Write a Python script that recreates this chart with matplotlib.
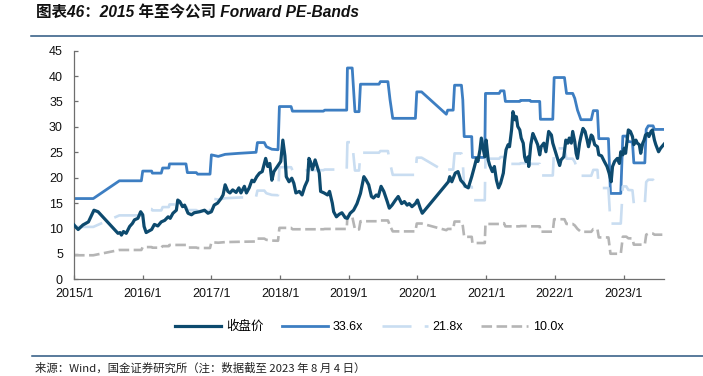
# -*- coding: utf-8 -*-
"""
Forward PE-Bands 차트 재현 (2015/1 ~ 2023/8)
"""
import matplotlib
matplotlib.use('Agg')
import matplotlib.pyplot as plt
from matplotlib.lines import Line2D

plt.rcParams['font.family'] = ['Liberation Sans', 'Noto Sans CJK SC']
plt.rcParams['axes.unicode_minus'] = False

# 收盘价 (연도 소수 표기)
close_t = [2015.00, 2015.06, 2015.13, 2015.21, 2015.29, 2015.35, 2015.64, 2015.67, 2015.69, 2015.72,
           2015.76, 2015.81, 2015.85, 2015.88, 2015.93, 2015.97, 2016.00, 2016.02, 2016.05, 2016.09,
           2016.13, 2016.17, 2016.22, 2016.27, 2016.32, 2016.37, 2016.40, 2016.44, 2016.49, 2016.51,
           2016.54, 2016.58, 2016.61, 2016.66, 2016.71, 2016.75, 2016.83, 2016.90, 2016.95, 2017.00,
           2017.04, 2017.09, 2017.14, 2017.17, 2017.20, 2017.24, 2017.27, 2017.31, 2017.36, 2017.40,
           2017.43, 2017.48, 2017.51, 2017.55, 2017.59, 2017.62, 2017.66, 2017.70, 2017.74, 2017.79,
           2017.82, 2017.85, 2017.88, 2017.91, 2017.96, 2018.01, 2018.04, 2018.07, 2018.09, 2018.13,
           2018.17, 2018.20, 2018.23, 2018.28, 2018.32, 2018.36, 2018.40, 2018.42, 2018.44, 2018.47,
           2018.51, 2018.54, 2018.57, 2018.59, 2018.64, 2018.69, 2018.72, 2018.76, 2018.78, 2018.82,
           2018.86, 2018.90, 2018.95, 2018.98, 2019.02, 2019.07, 2019.12, 2019.17, 2019.22, 2019.25,
           2019.29, 2019.33, 2019.36, 2019.40, 2019.43, 2019.47, 2019.51, 2019.56, 2019.59, 2019.63,
           2019.68, 2019.72, 2019.77, 2019.81, 2019.85, 2019.88, 2019.92, 2019.97, 2020.00, 2020.04,
           2020.07, 2020.45, 2020.47, 2020.50, 2020.52, 2020.55, 2020.59, 2020.63, 2020.67, 2020.70,
           2020.74, 2020.76, 2020.79, 2020.83, 2020.86, 2020.88, 2020.91, 2020.93, 2020.96, 2020.98,
           2021.00, 2021.03, 2021.05, 2021.09, 2021.12, 2021.15, 2021.18, 2021.21, 2021.25, 2021.27,
           2021.29, 2021.32, 2021.34, 2021.37, 2021.39, 2021.42, 2021.44, 2021.46, 2021.49, 2021.51,
           2021.54, 2021.56, 2021.58, 2021.61, 2021.62, 2021.65, 2021.68, 2021.71, 2021.75, 2021.78,
           2021.80, 2021.84, 2021.87, 2021.91, 2021.95, 2021.97, 2022.00, 2022.04, 2022.07, 2022.09,
           2022.13, 2022.16, 2022.19, 2022.21, 2022.24, 2022.26, 2022.29, 2022.31, 2022.33, 2022.36,
           2022.38, 2022.41, 2022.44, 2022.47, 2022.49, 2022.53, 2022.55, 2022.58, 2022.62, 2022.64,
           2022.68, 2022.72, 2022.76, 2022.79, 2022.82, 2022.84, 2022.87, 2022.91, 2022.94, 2022.96,
           2022.99, 2023.01, 2023.03, 2023.07, 2023.10, 2023.13, 2023.15, 2023.18, 2023.20, 2023.23,
           2023.25, 2023.28, 2023.30, 2023.32, 2023.35, 2023.37, 2023.40, 2023.42, 2023.45, 2023.47,
           2023.51, 2023.54, 2023.59]
close_px = [10.7, 9.8, 10.7, 11.3, 13.6, 13.3, 9.05, 9.2, 8.7, 9.4,
            9.05, 10.4, 11.0, 11.7, 12.0, 13.3, 12.7, 10.4, 9.2, 9.5,
            9.8, 10.8, 10.5, 11.3, 11.6, 12.3, 12.0, 13.0, 13.6, 15.6,
            15.3, 14.3, 14.6, 13.0, 12.7, 13.1, 13.3, 13.6, 13.0, 13.3,
            14.6, 15.0, 15.9, 16.6, 18.6, 17.3, 17.0, 17.6, 17.1, 18.0,
            17.0, 18.3, 17.0, 18.0, 19.5, 19.2, 20.2, 20.9, 21.2, 23.8,
            22.2, 22.8, 19.5, 21.2, 22.2, 23.2, 27.4, 24.3, 20.2, 19.2,
            19.9, 18.9, 17.0, 17.3, 16.6, 18.3, 19.5, 23.8, 23.2, 21.6,
            23.5, 22.2, 20.9, 17.3, 17.0, 16.6, 17.3, 15.0, 13.3, 12.3,
            12.8, 13.1, 12.1, 12.0, 13.0, 13.6, 14.9, 16.9, 20.2, 19.6,
            18.6, 16.3, 16.0, 16.6, 16.3, 18.3, 17.3, 15.3, 14.0, 14.6,
            15.6, 16.3, 14.9, 15.3, 14.6, 14.9, 14.3, 14.9, 15.6, 14.0,
            13.0, 19.2, 20.2, 19.2, 19.9, 20.9, 21.2, 19.5, 18.9, 18.3,
            18.0, 18.9, 20.2, 22.2, 23.8, 23.2, 25.5, 27.8, 25.5, 24.1,
            27.4, 23.5, 22.5, 21.2, 22.2, 19.5, 18.0, 18.9, 20.9, 23.5,
            25.5, 26.5, 26.1, 29.4, 33.0, 31.4, 32.0, 30.1, 29.4, 27.8,
            26.8, 24.1, 23.2, 24.1, 22.2, 26.5, 28.7, 27.8, 26.5, 24.5,
            26.1, 26.8, 25.1, 29.1, 28.4, 26.8, 25.5, 23.8, 22.4, 23.5,
            24.1, 27.4, 26.8, 27.8, 26.8, 29.1, 27.1, 24.8, 23.8, 26.8,
            28.1, 29.7, 29.1, 27.4, 26.1, 28.4, 28.1, 26.5, 26.1, 24.5,
            24.3, 23.2, 22.2, 20.9, 19.2, 22.2, 23.2, 23.8, 22.8, 25.1,
            24.5, 25.8, 24.8, 29.4, 29.1, 28.1, 26.5, 27.4, 26.8, 26.5,
            24.8, 26.8, 27.4, 28.4, 28.7, 28.1, 29.1, 29.4, 27.4, 26.5,
            25.1, 25.8, 26.6]

# 一致预期 EPS (Forward), band = EPS * 倍数
eps_t = [2015.00, 2015.28, 2015.66, 2015.98, 2016.00, 2016.13, 2016.14, 2016.27, 2016.29, 2016.38,
         2016.39, 2016.63, 2016.65, 2016.78, 2016.80, 2016.98, 2017.00, 2017.10, 2017.20, 2017.40,
         2017.65, 2017.67, 2017.77, 2017.80, 2017.88, 2017.97, 2017.99, 2018.16, 2018.18, 2018.63,
         2018.65, 2018.97, 2018.98, 2019.05, 2019.09, 2019.15, 2019.17, 2019.44, 2019.46, 2019.57,
         2019.60, 2019.64, 2019.97, 2019.99, 2020.06, 2020.42, 2020.44, 2020.52, 2020.54, 2020.64,
         2020.66, 2020.68, 2020.79, 2020.80, 2020.98, 2020.99, 2021.19, 2021.21, 2021.26, 2021.28,
         2021.49, 2021.50, 2021.64, 2021.65, 2021.78, 2021.79, 2021.97, 2021.99, 2022.14, 2022.17,
         2022.26, 2022.29, 2022.33, 2022.38, 2022.53, 2022.56, 2022.62, 2022.64, 2022.78, 2022.81,
         2022.96, 2022.99, 2023.04, 2023.07, 2023.13, 2023.15, 2023.31, 2023.33, 2023.36, 2023.43,
         2023.45, 2023.59]
eps = [0.473, 0.473, 0.577, 0.577, 0.634, 0.634, 0.622, 0.622, 0.652, 0.652,
       0.676, 0.676, 0.625, 0.625, 0.616, 0.616, 0.729, 0.720, 0.732, 0.738,
       0.744, 0.801, 0.801, 0.777, 0.762, 0.759, 1.012, 1.012, 0.985, 0.985,
       0.991, 0.991, 1.238, 1.238, 0.982, 0.982, 1.143, 1.143, 1.158, 1.158,
       1.054, 0.943, 0.943, 1.098, 1.098, 0.967, 0.991, 0.991, 1.137, 1.137,
       1.051, 0.836, 0.836, 0.714, 0.714, 1.089, 1.089, 1.104, 1.104, 1.042,
       1.042, 1.048, 1.048, 1.042, 1.042, 0.9375, 0.9375, 1.182, 1.182, 1.089,
       1.089, 1.060, 0.991, 0.935, 0.935, 0.988, 0.988, 0.824, 0.824, 0.503,
       0.503, 0.839, 0.839, 0.807, 0.804, 0.682, 0.682, 0.878, 0.899, 0.899,
       0.878, 0.878]

multiples = [33.6, 21.8, 10.0]
band_labels = ['33.6x', '21.8x', '10.0x']
years = list(range(2015, 2024))

c_close = '#0D4A6E'
band_styles = [
    dict(color='#3D7EC2', lw=2.0, ls='-'),
    dict(color='#C9DDF1', lw=1.9, dashes=(11, 5)),
    dict(color='#B5B5B5', lw=1.9, dashes=(4, 1.7)),
]

fig = plt.figure(figsize=(7.03, 3.76), dpi=100)
ax = fig.add_axes([0.1053, 0.2572, 0.8393, 0.6080])

handles = []
for m, lab, st in zip(multiples, band_labels, band_styles):
    line, = ax.plot(eps_t, [e * m for e in eps], label=lab, zorder=2, **st)
    handles.append(line)
h_close, = ax.plot(close_t, close_px, color=c_close, lw=2.3, label='收盘价', zorder=3)
handles = [h_close] + handles

ax.set_xlim(2015.0, 2023.59)
ax.set_ylim(0, 45)
ax.set_yticks(range(0, 46, 5))
ax.set_xticks(years)
ax.set_xticklabels([f'{y}/1' for y in years])

for side in ['top', 'right']:
    ax.spines[side].set_visible(False)
for side in ['left', 'bottom']:
    ax.spines[side].set_color('#6E6E6E')
    ax.spines[side].set_linewidth(0.9)
ax.tick_params(axis='both', direction='in', length=3, width=0.9, color='#6E6E6E',
               labelsize=9, labelcolor='#111111')
ax.tick_params(axis='y', pad=8)
ax.tick_params(axis='x', pad=6)

fig.legend(handles=handles, loc='center', bbox_to_anchor=(0.525, 0.131), ncol=4,
           frameon=False, fontsize=9, handlelength=3.7, handletextpad=0.4,
           columnspacing=1.45)

# 제목 및 출처
fig.text(0.051, 0.964, '图表46：2015 年至今公司 Forward PE-Bands', fontsize=11.2,
         fontweight='bold', fontstyle='italic', color='#111111', va='center', ha='left')
fig.add_artist(Line2D([0.044, 1.0], [0.903, 0.903], color='#2B5680', lw=1.1))
fig.add_artist(Line2D([0.045, 1.0], [0.053, 0.053], color='#2B5680', lw=1.1))
fig.text(0.05, 0.021, '来源：Wind，国金证券研究所（注：数据截至 2023 年 8 月 4 日）',
         fontsize=8.2, family=['Noto Sans CJK SC', 'DejaVu Sans'], color='#222222',
         va='center', ha='left')

fig.savefig('out.png', dpi=100)
